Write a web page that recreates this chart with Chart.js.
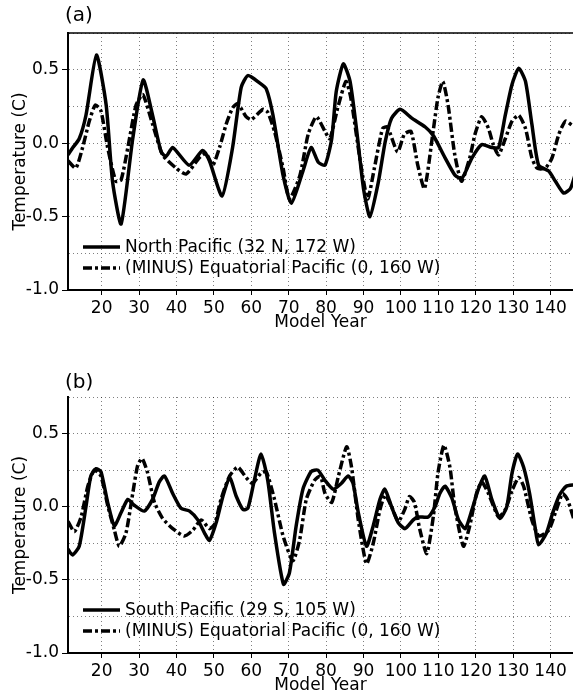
<!DOCTYPE html>
<html>
<head>
<meta charset="utf-8">
<script src="https://cdn.jsdelivr.net/npm/chart.js@4"></script>
<style>
  html, body { margin: 0; padding: 0; background: #fff; }
  body { width: 573px; height: 696px; position: relative; overflow: hidden; }
  .panel { position: absolute; left: 0; width: 573px; }
  #panelA { top: 0; height: 333px; }
  #panelB { top: 340px; height: 356px; }
</style>
</head>
<body>
<div class="panel" id="panelA"><canvas id="chartA"></canvas></div>
<div class="panel" id="panelB"><canvas id="chartB"></canvas></div>
<script>
// axis ticks
const xTicks = [20, 30, 40, 50, 60, 70, 80, 90, 100, 110, 120, 130, 140];
const yGrid = [-1, -0.75, -0.5, -0.25, 0, 0.25, 0.5, 0.75];
const yLabels = [-1, -0.5, 0, 0.5];

// (a) North Pacific (32 N, 172 W)
const northYears = [11, 12.3, 14, 15.8, 18.6, 21.2, 22.9, 25.2, 28.3, 31.1, 33.6, 35.9, 37.2, 39, 43.4, 47, 48.8,
  52.2, 55, 57.3, 59.1, 62.2, 64, 65.8, 68.5, 70.7, 73.8, 76, 77.9, 79.7, 81.5, 82.7, 84.6, 86.4, 88.2, 90, 91.7,
  94, 95.8, 97.5, 99.8, 102.9, 106.5, 108.7, 111.8, 114.5, 116.3, 119, 121.6, 124.3, 126.1, 127.9, 129.7, 131.5,
  133.3, 135, 136.8, 139.5, 141.3, 143.5, 145.3, 146.5];
const northTemp = [-0.08, -0.03, 0.03, 0.19, 0.60, 0.26, -0.26, -0.55, 0.03, 0.43, 0.19, -0.06, -0.09, -0.03, -0.15,
  -0.05, -0.12, -0.36, -0.03, 0.38, 0.46, 0.41, 0.37, 0.19, -0.22, -0.41, -0.19, -0.03, -0.13, -0.15, 0.03, 0.35,
  0.54, 0.42, 0.08, -0.31, -0.50, -0.26, 0.01, 0.17, 0.23, 0.17, 0.11, 0.05, -0.10, -0.22, -0.24, -0.10, -0.01,
  -0.03, -0.03, 0.19, 0.40, 0.51, 0.42, 0.13, -0.15, -0.19, -0.26, -0.34, -0.31, -0.22];

// (a) minus Equatorial Pacific (0, 160 W)
const eqYearsA = [11, 13.1, 14.9, 16.7, 18.3, 19.8, 21.6, 23.8, 25.2, 27, 29.2, 31, 33.6, 36.3, 39.9, 42.6, 46.1,
  47.9, 49.7, 51.5, 53.3, 55, 56.4, 58.6, 60, 63.1, 64.4, 66.2, 68.5, 70.2, 73, 75.2, 77.4, 79.7, 81, 83.1, 85.3,
  86.6, 89.3, 91.1, 92.9, 95.1, 96.4, 99.1, 100.9, 102.7, 104.5, 106.3, 108.5, 109.9, 111.2, 112.6, 114.4, 116.2,
  118.4, 119.8, 121.6, 123.4, 124.7, 126.1, 127.9, 129.7, 131.5, 133.3, 135, 136.4, 138.6, 140.4, 142.2, 144, 145.8];
const eqTempA = [-0.12, -0.17, -0.03, 0.15, 0.26, 0.22, -0.03, -0.26, -0.25, -0.03, 0.26, 0.33, 0.13, -0.08, -0.17,
  -0.21, -0.10, -0.07, -0.15, -0.03, 0.13, 0.24, 0.27, 0.18, 0.16, 0.23, 0.21, 0.08, -0.17, -0.38, -0.22, 0.06, 0.18,
  0.08, 0.03, 0.24, 0.42, 0.31, -0.15, -0.38, -0.17, 0.10, 0.11, -0.06, 0.06, 0.08, -0.15, -0.31, 0.06, 0.31, 0.42,
  0.26, -0.08, -0.26, -0.10, 0.06, 0.18, 0.10, -0.01, -0.08, 0.03, 0.15, 0.19, 0.10, -0.10, -0.17, -0.17, -0.10,
  0.06, 0.15, 0.12];

// (b) South Pacific (29 S, 105 W)
const southYears = [11, 12.2, 14, 15.8, 17.1, 18.5, 19.8, 21.6, 23.4, 25.2, 27, 28.7, 31.4, 33.6, 35.4, 36.8, 39,
  41.2, 43.5, 45.7, 47.5, 48.8, 50.6, 52.4, 54.2, 56, 57.8, 59.1, 60.8, 62.6, 64.4, 66.2, 68.6, 70.2, 72, 73.8, 76,
  77.8, 79.7, 81.9, 84.1, 85.9, 87.2, 88.6, 90.8, 92.6, 94.4, 95.7, 97.5, 99.3, 101.1, 103.3, 104.6, 107.3, 109.1,
  110.4, 111.8, 113.6, 115.4, 117.2, 119, 120.7, 122.4, 124.3, 126.5, 128.3, 129.7, 131.2, 132.8, 134.4, 135.8,
  136.8, 138.9, 140.6, 142.4, 144.2, 146.4];
const southTemp = [-0.29, -0.33, -0.27, 0.0, 0.21, 0.26, 0.24, 0.03, -0.13, -0.04, 0.05, 0.01, -0.03, 0.05, 0.17,
  0.21, 0.09, -0.01, -0.03, -0.09, -0.18, -0.23, -0.11, 0.07, 0.20, 0.07, -0.02, -0.01, 0.18, 0.36, 0.18, -0.18,
  -0.53, -0.45, -0.13, 0.12, 0.24, 0.25, 0.18, 0.12, 0.16, 0.21, 0.16, -0.04, -0.27, -0.13, 0.05, 0.12, 0.00,
  -0.11, -0.15, -0.09, -0.07, -0.07, 0.00, 0.09, 0.14, 0.06, -0.09, -0.15, -0.02, 0.12, 0.21, 0.05, -0.08, 0.00,
  0.23, 0.36, 0.27, 0.09, -0.13, -0.26, -0.18, -0.04, 0.08, 0.14, 0.15];

// (b) minus Equatorial Pacific (0, 160 W)
const eqYearsB = [11, 12.7, 14.5, 16.3, 18, 19.8, 21.6, 23.4, 24.7, 26.5, 28.3, 29.6, 30.8, 32.3, 34.1, 36.3, 39,
  42.1, 44.4, 46.6, 48.8, 50.2, 51.9, 54.2, 56.4, 58.6, 60.3, 62.6, 64, 66.2, 68.5, 71.1, 72.9, 74.7, 76.9, 78.5,
  79.7, 81.5, 83.3, 85.5, 86.8, 88.6, 90.8, 92.6, 94.4, 95.8, 97.5, 99.3, 101, 102.3, 103.6, 105, 106.9, 108.7,
  109.9, 111.5, 113.1, 114.4, 116.7, 118.4, 120.2, 121.6, 123.4, 126.1, 127.9, 129.7, 131.5, 132.8, 135, 136.9,
  139.5, 141.3, 143.2, 144.5, 146.3];
const eqTempB = [-0.10, -0.17, -0.07, 0.14, 0.25, 0.21, 0.01, -0.16, -0.27, -0.18, 0.09, 0.28, 0.33, 0.23, 0.03,
  -0.08, -0.15, -0.20, -0.16, -0.09, -0.15, -0.12, 0.05, 0.21, 0.27, 0.20, 0.16, 0.23, 0.24, 0.05, -0.20, -0.37,
  -0.23, 0.05, 0.18, 0.21, 0.09, 0.03, 0.21, 0.41, 0.27, -0.09, -0.39, -0.25, -0.02, 0.08, 0.00, -0.10, -0.02,
  0.07, 0.03, -0.15, -0.32, -0.06, 0.23, 0.42, 0.27, 0.00, -0.27, -0.13, 0.09, 0.17, 0.09, -0.07, -0.02, 0.11,
  0.20, 0.14, -0.09, -0.20, -0.16, -0.04, 0.09, 0.05, -0.09];

const FONT = '"DejaVu Sans", sans-serif';
Chart.defaults.font.family = FONT;
Chart.defaults.font.size = 17;
Chart.defaults.color = '#000';

const toPoints = (xs, ys) => xs.map((x, i) => ({ x: x, y: ys[i] }));

function series(label, xs, ys, dash) {
  return {
    label: label,
    data: toPoints(xs, ys),
    borderColor: '#000',
    borderWidth: 3.5,
    borderDash: dash,
    borderJoinStyle: 'round',
    pointRadius: 0,
    tension: 0.2,
    fill: false
  };
}

// legend drawn inside the plot, lower left corner
const insideLegend = {
  id: 'insideLegend',
  afterDatasetsDraw(chart) {
    const { ctx, chartArea } = chart;
    const rows = [43, 22];
    chart.data.datasets.forEach((ds, i) => {
      const y = chartArea.bottom - rows[i];
      const x0 = chartArea.left + 15;
      ctx.save();
      ctx.strokeStyle = ds.borderColor;
      ctx.lineWidth = ds.borderWidth;
      ctx.setLineDash(ds.borderDash || []);
      ctx.beginPath();
      ctx.moveTo(x0, y);
      ctx.lineTo(x0 + 37, y);
      ctx.stroke();
      ctx.setLineDash([]);
      ctx.fillStyle = '#000';
      ctx.font = '17px ' + FONT;
      ctx.textBaseline = 'middle';
      ctx.fillText(ds.label, x0 + 42, y + 1);
      ctx.restore();
    });
  }
};

// "(a)" / "(b)" tag and optional solid top frame
const panelTag = {
  id: 'panelTag',
  afterDraw(chart, args, opts) {
    const { ctx, chartArea } = chart;
    ctx.save();
    if (opts.topLine) {
      ctx.strokeStyle = '#000';
      ctx.lineWidth = 1.5;
      ctx.beginPath();
      ctx.moveTo(chartArea.left, chartArea.top);
      ctx.lineTo(chartArea.right, chartArea.top);
      ctx.stroke();
    }
    ctx.fillStyle = '#000';
    ctx.font = '20px ' + FONT;
    ctx.textBaseline = 'middle';
    ctx.fillText(opts.text, chartArea.left - 3, chartArea.top - opts.offset);
    ctx.restore();
  }
};

function makeChart(id, datasets, tag, padTop, tagOffset, topLine) {
  return new Chart(document.getElementById(id), {
    type: 'line',
    data: { datasets: datasets },
    plugins: [insideLegend, panelTag],
    options: {
      responsive: true,
      maintainAspectRatio: false,
      animation: false,
      layout: { padding: { top: padTop, left: 0, right: 0, bottom: 0 } },
      plugins: {
        legend: { display: false },
        tooltip: { enabled: false },
        panelTag: { text: tag, offset: tagOffset, topLine: topLine }
      },
      scales: {
        x: {
          type: 'linear',
          min: 11,
          max: 146,
          afterBuildTicks: (scale) => { scale.ticks = xTicks.map((v) => ({ value: v })); },
          afterFit: (scale) => { scale.height = 43; },
          ticks: { padding: 3, maxRotation: 0, autoSkip: false },
          grid: { color: 'rgba(0,0,0,0.5)', lineWidth: 1, tickLength: 5, tickColor: '#000' },
          border: { color: '#000', width: 2, dash: [1, 3] },
          title: { display: true, text: 'Model Year', padding: { top: 0, bottom: 0 } }
        },
        y: {
          min: -1,
          max: 0.75,
          afterBuildTicks: (scale) => { scale.ticks = yGrid.map((v) => ({ value: v })); },
          afterFit: (scale) => { scale.width = 68; },
          ticks: {
            padding: 3,
            callback: (v) => (yLabels.includes(v) ? v.toFixed(1) : '')
          },
          grid: {
            color: 'rgba(0,0,0,0.5)',
            lineWidth: 1,
            tickLength: 6,
            tickColor: (c) => (c.tick && yLabels.includes(c.tick.value) ? '#000' : 'rgba(0,0,0,0)')
          },
          border: { color: '#000', width: 2, dash: [1, 3] },
          title: { display: true, text: 'Temperature (C)', padding: { top: 10, bottom: 0 } }
        }
      }
    }
  });
}

const dashDot = [9, 3, 3, 3];

makeChart('chartA', [
  series('North Pacific (32 N, 172 W)', northYears, northTemp, []),
  series('(MINUS) Equatorial Pacific (0, 160 W)', eqYearsA, eqTempA, dashDot)
], '(a)', 33, 17, true);

makeChart('chartB', [
  series('South Pacific (29 S, 105 W)', southYears, southTemp, []),
  series('(MINUS) Equatorial Pacific (0, 160 W)', eqYearsB, eqTempB, dashDot)
], '(b)', 57, 14, false);
</script>
</body>
</html>
